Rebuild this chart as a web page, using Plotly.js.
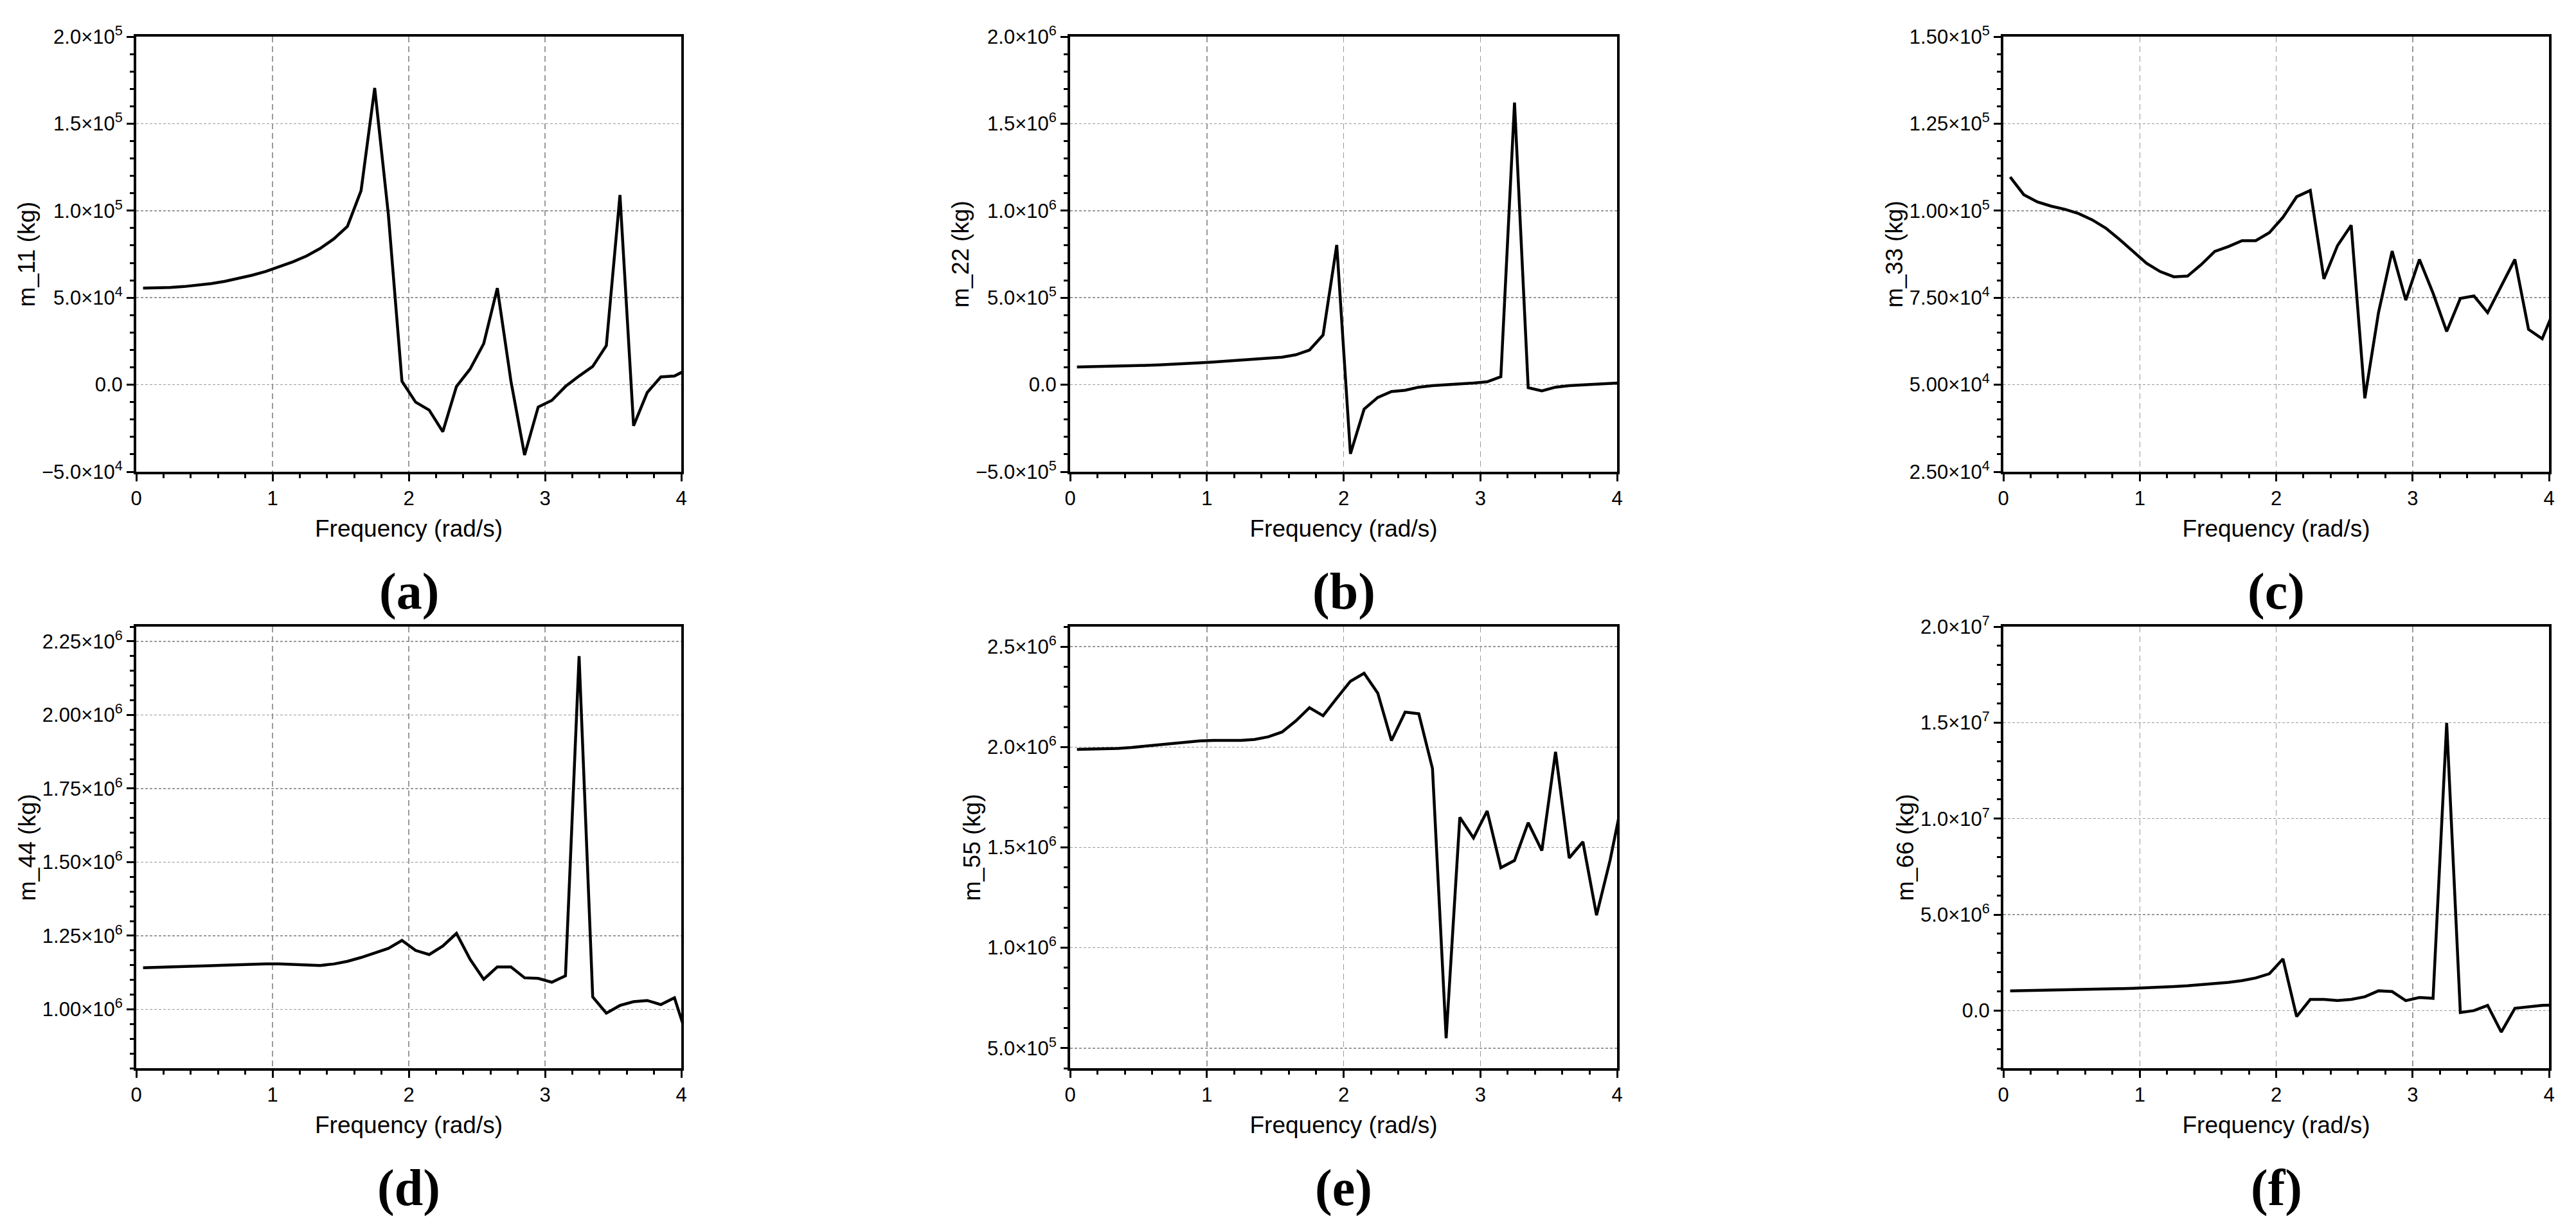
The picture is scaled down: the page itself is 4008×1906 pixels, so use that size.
<html>
<head>
<meta charset="utf-8">
<script src="https://cdn.plot.ly/plotly-3.0.1.min.js"></script>
<style>
  body { margin: 0; background: #fff; }
  #chart { width: 4008px; height: 1906px; }
</style>
</head>
<body>
<div id="chart"></div>
<script>
// frequency samples (rad/s)
var freq = [0.05, 0.15, 0.25, 0.35, 0.45, 0.55, 0.65, 0.75, 0.85, 0.95,
            1.05, 1.15, 1.25, 1.35, 1.45, 1.55, 1.65, 1.75, 1.85, 1.95,
            2.05, 2.15, 2.25, 2.35, 2.45, 2.55, 2.65, 2.75, 2.85, 2.95,
            3.05, 3.15, 3.25, 3.35, 3.45, 3.55, 3.65, 3.75, 3.85, 3.95, 4.05];

// added mass components (kg)
var m11 = [55500, 55600, 55900, 56400, 57100, 58100, 59400, 61000, 62900, 65100,
           67700, 70600, 74000, 78300, 83800, 91000, 111500, 170500, 98000, 2000,
           -10000, -14600, -27000, -1000, 9000, 23600, 55500, 2000, -40400, -12800,
           -9000, -1000, 5000, 10500, 22500, 109000, -23600, -4500, 4500, 5000, 9000];
var m22 = [102e3, 103e3, 104e3, 106e3, 108e3, 111e3, 114e3, 117e3, 121e3, 126e3,
           131e3, 136e3, 141e3, 146e3, 151e3, 158e3, 172e3, 199e3, 286e3, 803e3,
           -397e3, -140e3, -73e3, -39e3, -32e3, -14e3, -5e3, -1e3, 4e3, 10e3,
           17e3, 46e3, 1621e3, -17e3, -35e3, -14e3, -5e3, -1e3, 4e3, 8e3, 12e3];
var m33 = [109.7e3, 104.6e3, 102.5e3, 101.3e3, 100.4e3, 99.2e3, 97.4e3, 95.0e3, 91.8e3, 88.3e3,
           84.9e3, 82.5e3, 81.0e3, 81.2e3, 84.5e3, 88.3e3, 89.7e3, 91.4e3, 91.4e3, 93.7e3,
           98.1e3, 104.0e3, 105.8e3, 80.4e3, 90.0e3, 95.8e3, 46.1e3, 70.7e3, 88.4e3, 74.3e3,
           86.0e3, 76.3e3, 65.3e3, 74.8e3, 75.5e3, 70.7e3, 78.2e3, 86.0e3, 65.9e3, 63.2e3, 72.6e3];
var m44 = [1.141e6, 1.142e6, 1.143e6, 1.144e6, 1.146e6, 1.148e6, 1.150e6, 1.152e6, 1.153e6, 1.154e6,
           1.154e6, 1.152e6, 1.150e6, 1.149e6, 1.154e6, 1.163e6, 1.176e6, 1.191e6, 1.207e6, 1.234e6,
           1.200e6, 1.186e6, 1.215e6, 1.258e6, 1.170e6, 1.102e6, 1.144e6, 1.144e6, 1.107e6, 1.105e6,
           1.092e6, 1.114e6, 2.200e6, 1.042e6, 0.987e6, 1.013e6, 1.026e6, 1.030e6, 1.016e6, 1.039e6, 0.895e6];
var m55 = [1.988e6, 1.989e6, 1.990e6, 1.993e6, 1.998e6, 2.005e6, 2.012e6, 2.019e6, 2.026e6, 2.031e6,
           2.033e6, 2.033e6, 2.033e6, 2.038e6, 2.051e6, 2.075e6, 2.130e6, 2.196e6, 2.156e6, 2.243e6,
           2.328e6, 2.368e6, 2.269e6, 2.032e6, 2.174e6, 2.166e6, 1.893e6, 0.549e6, 1.650e6, 1.547e6,
           1.682e6, 1.399e6, 1.435e6, 1.623e6, 1.484e6, 1.976e6, 1.447e6, 1.528e6, 1.162e6, 1.439e6, 1.775e6];
var m66 = [1.03e6, 1.04e6, 1.05e6, 1.06e6, 1.07e6, 1.08e6, 1.10e6, 1.12e6, 1.14e6, 1.16e6,
           1.18e6, 1.21e6, 1.25e6, 1.29e6, 1.34e6, 1.39e6, 1.47e6, 1.56e6, 1.70e6, 1.92e6,
           2.69e6, -0.31e6, 0.58e6, 0.58e6, 0.52e6, 0.58e6, 0.72e6, 1.03e6, 0.99e6, 0.52e6,
           0.68e6, 0.64e6, 14.98e6, -0.10e6, 0.00e6, 0.27e6, -1.12e6, 0.12e6, 0.21e6, 0.27e6, 0.29e6];

// tick labels
var xTicks = [0, 1, 2, 3, 4];
var yTicksA = [-5e4, 0, 5e4, 1e5, 1.5e5, 2e5];
var yTextA = ['\u22125.0\u00d710<sup>4</sup>', '0.0', '5.0\u00d710<sup>4</sup>', '1.0\u00d710<sup>5</sup>', '1.5\u00d710<sup>5</sup>', '2.0\u00d710<sup>5</sup>'];
var yTicksB = [-5e5, 0, 5e5, 1e6, 1.5e6, 2e6];
var yTextB = ['\u22125.0\u00d710<sup>5</sup>', '0.0', '5.0\u00d710<sup>5</sup>', '1.0\u00d710<sup>6</sup>', '1.5\u00d710<sup>6</sup>', '2.0\u00d710<sup>6</sup>'];
var yTicksC = [2.5e4, 5e4, 7.5e4, 1e5, 1.25e5, 1.5e5];
var yTextC = ['2.50\u00d710<sup>4</sup>', '5.00\u00d710<sup>4</sup>', '7.50\u00d710<sup>4</sup>', '1.00\u00d710<sup>5</sup>', '1.25\u00d710<sup>5</sup>', '1.50\u00d710<sup>5</sup>'];
var yTicksD = [1e6, 1.25e6, 1.5e6, 1.75e6, 2e6, 2.25e6];
var yTextD = ['1.00\u00d710<sup>6</sup>', '1.25\u00d710<sup>6</sup>', '1.50\u00d710<sup>6</sup>', '1.75\u00d710<sup>6</sup>', '2.00\u00d710<sup>6</sup>', '2.25\u00d710<sup>6</sup>'];
var yTicksE = [5e5, 1e6, 1.5e6, 2e6, 2.5e6];
var yTextE = ['5.0\u00d710<sup>5</sup>', '1.0\u00d710<sup>6</sup>', '1.5\u00d710<sup>6</sup>', '2.0\u00d710<sup>6</sup>', '2.5\u00d710<sup>6</sup>'];
var yTicksF = [0, 5e6, 1e7, 1.5e7, 2e7];
var yTextF = ['0.0', '5.0\u00d710<sup>6</sup>', '1.0\u00d710<sup>7</sup>', '1.5\u00d710<sup>7</sup>', '2.0\u00d710<sup>7</sup>'];

var panelLabels = ['(a)', '(b)', '(c)', '(d)', '(e)', '(f)'];
var yTitles = ['m_11 (kg)', 'm_22 (kg)', 'm_33 (kg)', 'm_44 (kg)', 'm_55 (kg)', 'm_66 (kg)'];

var W = 4008, H = 1906;
var colX = [[212, 1060], [1665, 2516], [3117, 3966]];
var rowY = [[57, 734], [975, 1662]];

var tickFont = {family: 'Liberation Sans Narrow, Liberation Sans, Arial', size: 31, color: '#000'};
var titleFont = {family: 'Liberation Sans, Arial', size: 37, color: '#000'};

function xAxis(col, anchor) {
    return {
        domain: [colX[col][0] / W, colX[col][1] / W],
        anchor: anchor,
        range: [0, 4],
        tickmode: 'array', tickvals: xTicks, ticktext: xTicks.map(String),
        ticks: 'outside', ticklen: 11, tickwidth: 3, tickcolor: '#000',
        minor: {tickmode: 'linear', tick0: 0, dtick: 0.2, ticks: 'outside', ticklen: 6, tickwidth: 3, tickcolor: '#000', showgrid: false},
        showline: true, linewidth: 4, linecolor: '#000', mirror: true,
        showgrid: true, gridcolor: '#9a9a9a', gridwidth: 1.5, griddash: '9px,6px',
        zeroline: false,
        tickfont: tickFont,
        title: {text: 'Frequency (rad/s)', font: titleFont, standoff: 18}
    };
}

function yAxis(row, col, anchor, range, vals, text, minorStep, title) {
    return {
        domain: [1 - rowY[row][1] / H, 1 - rowY[row][0] / H],
        anchor: anchor,
        range: range,
        tickmode: 'array', tickvals: vals, ticktext: text,
        ticks: 'outside', ticklen: 11, tickwidth: 3, tickcolor: '#000',
        minor: {tickmode: 'linear', tick0: 0, dtick: minorStep, ticks: 'outside', ticklen: 6, tickwidth: 3, tickcolor: '#000', showgrid: false},
        showline: true, linewidth: 4, linecolor: '#000', mirror: true,
        showgrid: true, gridcolor: '#9a9a9a', gridwidth: 1.5, griddash: '4px,3px',
        zeroline: false,
        tickfont: tickFont,
        title: {text: title, font: titleFont, standoff: 0}
    };
}

var series = [m11, m22, m33, m44, m55, m66];
var traces = series.map(function (s, i) {
    return {
        x: freq, y: s,
        xaxis: i === 0 ? 'x' : 'x' + (i + 1),
        yaxis: i === 0 ? 'y' : 'y' + (i + 1),
        mode: 'lines', type: 'scatter',
        line: {color: '#000', width: 4.5},
        hoverinfo: 'skip'
    };
});

var layout = {
    width: W, height: H,
    margin: {l: 0, r: 0, t: 0, b: 0},
    paper_bgcolor: '#fff', plot_bgcolor: '#fff',
    showlegend: false,
    xaxis: xAxis(0, 'y'),
    xaxis2: xAxis(1, 'y2'),
    xaxis3: xAxis(2, 'y3'),
    xaxis4: xAxis(0, 'y4'),
    xaxis5: xAxis(1, 'y5'),
    xaxis6: xAxis(2, 'y6'),
    yaxis: yAxis(0, 0, 'x', [-5e4, 2e5], yTicksA, yTextA, 1e4, yTitles[0]),
    yaxis2: yAxis(0, 1, 'x2', [-5e5, 2e6], yTicksB, yTextB, 1e5, yTitles[1]),
    yaxis3: yAxis(0, 2, 'x3', [2.5e4, 1.5e5], yTicksC, yTextC, 5e3, yTitles[2]),
    yaxis4: yAxis(1, 0, 'x4', [0.8e6, 2.3e6], yTicksD, yTextD, 5e4, yTitles[3]),
    yaxis5: yAxis(1, 1, 'x5', [0.4e6, 2.6e6], yTicksE, yTextE, 1e5, yTitles[4]),
    yaxis6: yAxis(1, 2, 'x6', [-3e6, 2e7], yTicksF, yTextF, 1e6, yTitles[5]),
    annotations: panelLabels.map(function (t, i) {
        var col = i % 3, row = Math.floor(i / 3);
        var cy = row === 0 ? 920 : 1848;
        return {
            text: '<b>' + t + '</b>',
            xref: 'paper', yref: 'paper',
            x: (colX[col][0] + colX[col][1]) / 2 / W,
            y: 1 - cy / H,
            xanchor: 'center', yanchor: 'middle',
            showarrow: false,
            font: {family: 'Liberation Serif, DejaVu Serif, serif', size: 80, color: '#000'}
        };
    })
};

Plotly.newPlot('chart', traces, layout, {staticPlot: true, displayModeBar: false});
</script>
</body>
</html>
